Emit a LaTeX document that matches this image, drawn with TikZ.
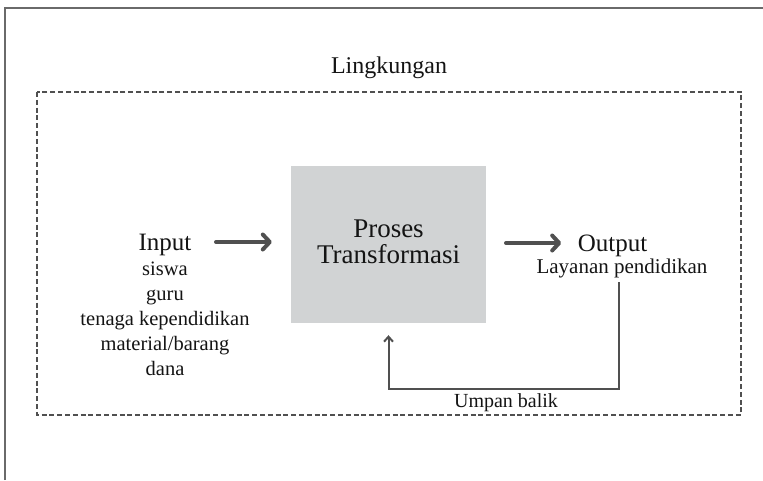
\documentclass[tikz,border=0pt]{standalone}
\usepackage{fontspec}
\setmainfont{Liberation Serif}
\usetikzlibrary{arrows.meta}
\definecolor{boxgray}{HTML}{D1D3D4}
\definecolor{linegray}{HTML}{505050}
\definecolor{framegray}{HTML}{6A6A6A}
\definecolor{txt}{HTML}{141414}
\begin{document}
\begin{tikzpicture}[x=1pt,y=-1pt,
  lbl/.style={text=txt, inner sep=0pt, anchor=base},
  procbox/.style={fill=boxgray, draw=none, minimum width=195pt, minimum height=157pt, inner sep=0pt},
  bigarrow/.style={draw=linegray, line width=4pt, line cap=round,
    -{Straight Barb[length=7pt, width=15pt, line cap=round, line join=round]}},
  fb/.style={draw=linegray, line width=2pt,
    -{Straight Barb[length=5pt, width=9pt]}},
  envbox/.style={draw=linegray, line width=1.6pt, dash pattern=on 5pt off 2.8pt}
]
\useasboundingbox (0,0) rectangle (763,480);
% outer frame
\draw[framegray, line width=2.2pt] (5,480) -- (5,8) -- (763,8);
% environment
\node[lbl, font=\fontsize{24}{24}\selectfont] (ling) at (389,73) {Lingkungan};
\draw[envbox] (37,92) rectangle (741,415);
% process
\node[procbox] (proc) at (388.5,244.5) {};
\node[lbl, font=\fontsize{27}{26}\selectfont] (proses) at (388.5,237) {Proses};
\node[lbl, font=\fontsize{27}{26}\selectfont] (transf) at (388.5,263) {Transformasi};
% input
\node[lbl, font=\fontsize{25}{25}\selectfont] (input) at (165,250) {Input};
\node[lbl, font=\fontsize{20.5}{25}\selectfont] (i1) at (165,275) {siswa};
\node[lbl, font=\fontsize{20.5}{25}\selectfont] (i2) at (165,300) {guru};
\node[lbl, font=\fontsize{20.5}{25}\selectfont] (i3) at (165,325) {tenaga kependidikan};
\node[lbl, font=\fontsize{20.5}{25}\selectfont] (i4) at (165,350) {material/barang};
\node[lbl, font=\fontsize{20.5}{25}\selectfont] (i5) at (165,375) {dana};
% output
\node[lbl, font=\fontsize{25}{25}\selectfont] (output) at (612.5,251) {Output};
\node[lbl, font=\fontsize{21}{25}\selectfont] (layanan) at (622,273) {Layanan pendidikan};
% arrows
\coordinate (a1s) at (216,242);
\coordinate (a2s) at (506,243);
\draw[bigarrow] (a1s) -- ([xshift=-19pt]proc.west |- a1s);
\draw[bigarrow] (a2s) -- ([xshift=75pt]proc.east |- a2s);
% feedback
\coordinate (fbstart) at (619,282);
\draw[fb, shorten >=12pt] (fbstart) -- ++(0,107) -| (proc.south);
\node[lbl, font=\fontsize{20}{24}\selectfont] (umpan) at (506,407) {Umpan balik};
\end{tikzpicture}
\end{document}
